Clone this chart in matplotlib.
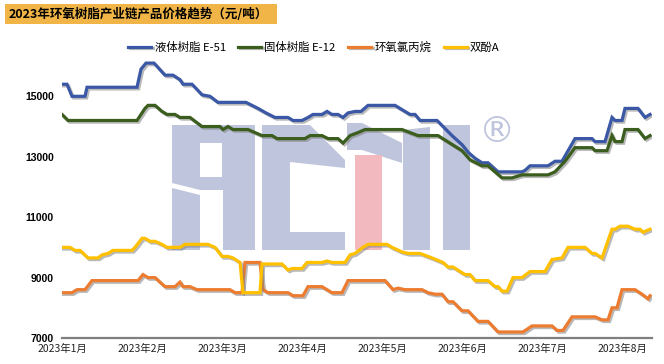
import matplotlib
matplotlib.use('Agg')
import matplotlib.pyplot as plt
import matplotlib.patheffects as pe
from matplotlib.patches import Rectangle, Polygon

plt.rcParams['font.family'] = ['Noto Sans CJK SC', 'DejaVu Sans']

# month labels sit on a trading-day index (about 20 points per month)
months = ['2023年1月', '2023年2月', '2023年3月', '2023年4月',
          '2023年5月', '2023年6月', '2023年7月', '2023年8月']
month_pos = [0, 20, 40, 60, 80, 100, 120, 140]

names = ['液体树脂 E-51', '固体树脂 E-12', '环氧氯丙烷', '双酚A']
colors = ['#3A58A6', '#3B5E1F', '#EC7C30', '#FFC000']

e51_x = [0, 1.25, 2.5, 5.75, 6.25, 18.75, 19.75, 21, 23, 25.75, 27.75, 29.5, 30.25, 32.5,
         35, 37, 39, 46, 49, 51, 53.25, 56.5, 57.75, 60, 61.5, 62.75, 65, 66.25, 67.5, 69,
         70.25, 71.5, 73.25, 74.75, 76.5, 83.25, 85.75, 87, 88.25, 89.5, 93.75, 95.25, 97.5,
         100, 101.5, 103.25, 105, 106.5, 109, 115, 115.75, 117, 121.5, 123.25, 125, 128.25,
         132.5, 133.25, 135.75, 137.5, 138.25, 140, 140.75, 144, 145.75, 147]
e51_y = [15400, 15400, 15000, 15000, 15300, 15300, 15900, 16100, 16100, 15700, 15700, 15550,
         15400, 15400, 15050, 15000, 14800, 14800, 14600, 14450, 14300, 14300, 14200, 14200,
         14300, 14400, 14400, 14500, 14400, 14400, 14300, 14450, 14500, 14500, 14700, 14700,
         14500, 14400, 14400, 14200, 14200, 14000, 13700, 13400, 13150, 12950, 12800, 12800,
         12500, 12500, 12550, 12700, 12700, 12850, 12850, 13600, 13600, 13500, 13500, 14300,
         14200, 14200, 14600, 14600, 14300, 14400]

e12_x = [0, 1.5, 18.75, 20.75, 21.5, 23.25, 25, 26.25, 28.25, 29.5, 32, 35, 39.5, 40.25,
         41.5, 42.75, 46.5, 48.25, 50, 52.5, 53.75, 60.75, 62, 65, 66.5, 69, 70.25, 72, 74,
         75.75, 85, 87, 89, 94, 97, 100, 102, 105, 106.5, 108.25, 110, 112.5, 115, 121.5,
         123.25, 125.75, 128.25, 132.5, 133.25, 136.25, 137.5, 138.25, 140, 140.75, 144,
         145.75, 147]
e12_y = [14400, 14200, 14200, 14600, 14700, 14700, 14500, 14400, 14400, 14300, 14300, 14000,
         14000, 13900, 14000, 13900, 13900, 13800, 13700, 13700, 13600, 13600, 13700, 13700,
         13600, 13600, 13450, 13700, 13800, 13900, 13900, 13800, 13700, 13700, 13450, 13200,
         12900, 12700, 12700, 12500, 12300, 12300, 12400, 12400, 12500, 12850, 13300, 13300,
         13200, 13200, 13700, 13500, 13500, 13900, 13900, 13600, 13700]

ech_x = [0, 2.5, 3.75, 5.75, 7.5, 19, 20.25, 21.5, 23.25, 25.75, 28.25, 29.5, 30.25, 32,
         33.75, 42, 43.25, 45, 45.75, 49.5, 50.25, 51.5, 56.5, 57.75, 60.25, 61.5, 65, 67.5,
         70, 71.5, 80.75, 82.75, 84, 85.75, 90, 91.5, 93.25, 95, 96.5, 97.75, 100, 101.5,
         104, 106.5, 109, 115.25, 117.5, 122.5, 123.75, 125.25, 127.5, 133.25, 135, 136.5,
         137.5, 138.75, 140, 143.25, 145, 146.5, 147]
ech_y = [8500, 8500, 8600, 8600, 8900, 8900, 9100, 9000, 9000, 8700, 8700, 8850, 8700, 8700,
         8600, 8600, 8500, 8500, 9500, 9500, 8600, 8500, 8500, 8400, 8400, 8700, 8700, 8500,
         8500, 8900, 8900, 8600, 8650, 8600, 8600, 8500, 8450, 8450, 8200, 8200, 7900, 7900,
         7550, 7550, 7200, 7200, 7400, 7400, 7250, 7250, 7700, 7700, 7600, 7600, 8000, 8000,
         8600, 8600, 8450, 8300, 8400]

bpa_x = [0, 2, 3.25, 4.5, 6.5, 9, 10, 11.5, 12.75, 17.5, 18.25, 20, 20.75, 22, 23.25, 25,
         26.25, 29.5, 30.75, 36.5, 38.25, 40, 41.5, 42.75, 44.5, 45.25, 49.5, 50, 55, 56.5,
         57.5, 60, 61.25, 65, 66.25, 67.5, 70.75, 72, 73.25, 75.25, 76.5, 81.25, 82.5, 85,
         86.5, 89.5, 92.5, 95.25, 96.5, 97.75, 100.75, 102, 103.25, 106.5, 108.25, 109, 110,
         111.25, 112.75, 115, 117, 120.75, 122.5, 125, 126.5, 130.75, 132.5, 133.25, 135,
         137.5, 138.25, 139.5, 141.5, 143.25, 144.5, 145.25, 147]
bpa_y = [10000, 10000, 9900, 9900, 9650, 9650, 9750, 9800, 9900, 9900, 10000, 10300, 10300,
         10200, 10200, 10100, 10000, 10000, 10100, 10100, 10000, 9700, 9700, 9650, 9500, 8500,
         8500, 9450, 9450, 9250, 9300, 9300, 9500, 9500, 9550, 9500, 9500, 9750, 9800, 10000,
         10100, 10100, 10000, 9850, 9800, 9800, 9650, 9500, 9350, 9350, 9100, 9100, 8900,
         8900, 8700, 8700, 8550, 8550, 9000, 9000, 9200, 9200, 9600, 9650, 10000, 10000, 9800,
         9800, 9650, 10600, 10600, 10700, 10700, 10600, 10600, 10500, 10600]

series = [(e51_x, e51_y), (e12_x, e12_y), (ech_x, ech_y), (bpa_x, bpa_y)]

W, H = 664, 364
fig = plt.figure(figsize=(W / 100, H / 100), dpi=100)
ax = fig.add_axes([62 / W, 26 / H, 590 / W, 287 / H])
ax.set_facecolor('none')


def fp(x, y):
    # figure pixel (from top-left) -> figure fraction
    return (x / W, 1 - y / H)


# title bar
fig.add_artist(Rectangle(fp(5, 24), 272 / W, 20 / H, transform=fig.transFigure,
                         facecolor='#F0B546', edgecolor='none', zorder=0))
fig.text(*fp(9, 14.5), '2023年环氧树脂产业链产品价格趋势（元/吨）', fontsize=9,
         fontweight='bold', va='center', ha='left', zorder=2)

# watermark logo
wm = '#BEC5DC'
shapes = [
    ([(172, 125), (255, 125), (255, 250), (223, 250), (223, 190), (200, 190), (200, 250),
      (172, 250)], wm),
    ([(200, 143), (222, 143), (222, 177), (200, 177)], 'white'),
    ([(172, 183), (200, 190), (200, 195), (172, 188)], 'white'),
    ([(262, 125), (310, 125), (345, 160), (345, 168), (290, 162), (290, 232), (345, 232),
      (345, 250), (262, 250)], wm),
    ([(347, 123), (362, 123), (402, 143), (402, 163), (362, 150), (347, 150)], wm),
    ([(355, 155), (382, 155), (382, 250), (355, 250)], '#F2B9BE'),
    ([(403, 130), (430, 127), (430, 250), (403, 250)], wm),
    ([(443, 125), (470, 125), (470, 250), (443, 250)], wm),
]
for pts, c in shapes:
    ax.add_patch(Polygon([fp(x, y) for x, y in pts], closed=True, transform=fig.transFigure,
                         facecolor=c, edgecolor='none', zorder=0.5, clip_on=False))
fig.text(*fp(497, 132), '®', fontsize=26, color=wm, ha='center', va='center',
         family='DejaVu Sans', zorder=0.5)

shadow = [pe.SimpleLineShadow(offset=(1.2, -1.2), shadow_color='#808080', alpha=0.55),
          pe.Normal()]
for (xs, ys), name, c in zip(series, names, colors):
    ax.plot(xs, ys, color=c, lw=2.3, label=name, solid_joinstyle='miter',
            path_effects=shadow, zorder=3)

ax.set_xlim(0, 147.5)
ax.set_ylim(7000, 16500)
ax.set_yticks([7000, 9000, 11000, 13000, 15000])
ax.set_yticklabels(['7000', '9000', '11000', '13000', '15000'], family='Liberation Sans',
                   fontweight='bold', fontsize=7.5)
ax.set_xticks(month_pos)
ax.set_xticklabels(months, fontsize=7.5, color='#222222')
ax.tick_params(axis='both', length=0)
ax.tick_params(axis='y', pad=6)
ax.tick_params(axis='x', pad=4)
for s in ['top', 'right', 'left']:
    ax.spines[s].set_visible(False)
ax.spines['bottom'].set_color('#7F7F7F')
ax.spines['bottom'].set_linewidth(1.6)

fig.legend(loc='center', bbox_to_anchor=(314 / W, 1 - 47 / H), ncol=4, frameon=False,
           fontsize=8.2, handlelength=2.0, handletextpad=0.3, columnspacing=1.1)

fig.savefig('out.png', dpi=100)
